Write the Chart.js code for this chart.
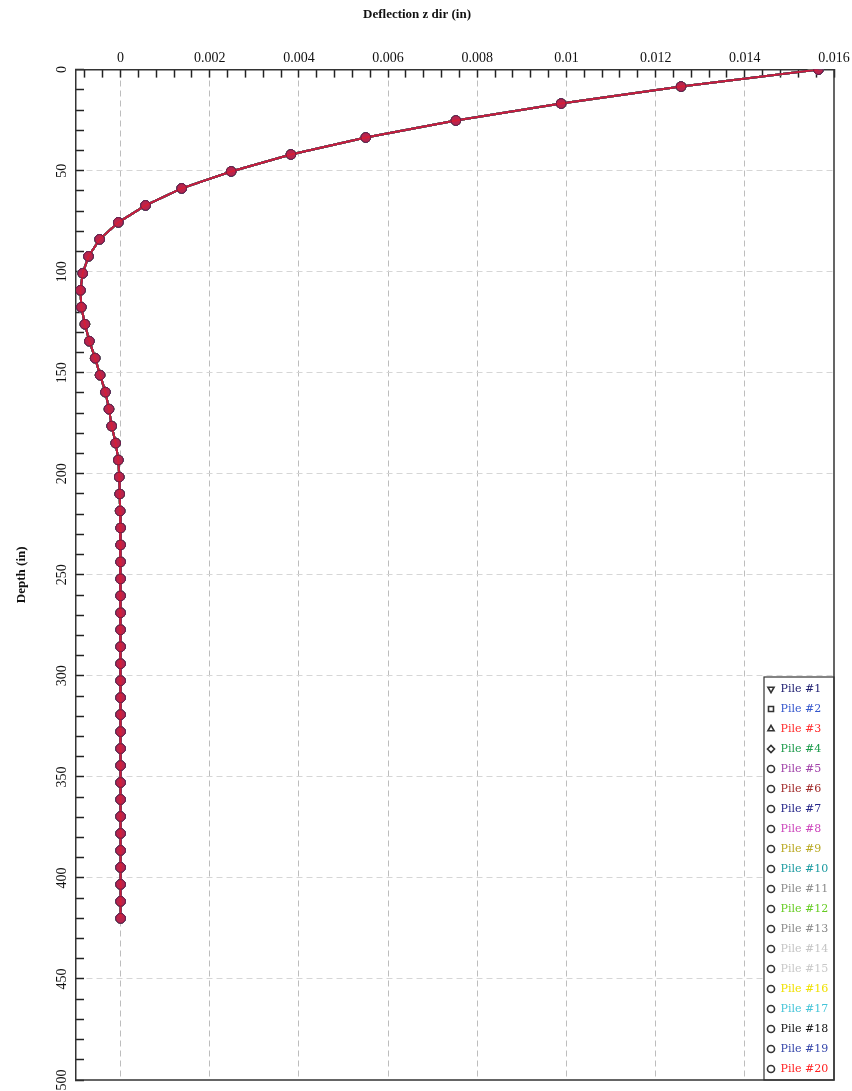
<!DOCTYPE html>
<html>
<head>
<meta charset="utf-8">
<script src="https://cdn.jsdelivr.net/npm/chart.js@4/dist/chart.umd.min.js"></script>
<style>
  html, body { margin: 0; padding: 0; background: #fff; }
  #wrap { width: 852px; height: 1091px; position: relative; }
</style>
</head>
<body>
<div id="wrap"><canvas id="c"></canvas></div>
<script>
// ---- data ----
const depth = [0, 8.4, 16.8, 25.2, 33.6, 42, 50.4, 58.8, 67.2, 75.6,
  84, 92.4, 100.8, 109.2, 117.6, 126, 134.4, 142.8, 151.2, 159.6,
  168, 176.4, 184.8, 193.2, 201.6, 210, 218.4, 226.8, 235.2, 243.6,
  252, 260.4, 268.8, 277.2, 285.6, 294, 302.4, 310.8, 319.2, 327.6,
  336, 344.4, 352.8, 361.2, 369.6, 378, 386.4, 394.8, 403.2, 411.6, 420];
const deflection = [0.01565, 0.01257, 0.00988, 0.00752, 0.00550, 0.00382, 0.00248, 0.00137, 0.00056, -0.00005,
  -0.00047, -0.00072, -0.00085, -0.00090, -0.00088, -0.00080, -0.00070, -0.00057, -0.00046, -0.00034,
  -0.00026, -0.00020, -0.00011, -0.00005, -0.00003, -0.00002, -0.00001, 0, 0, 0,
  0, 0, 0, 0, 0, 0, 0, 0, 0, 0,
  0, 0, 0, 0, 0, 0, 0, 0, 0, 0, 0];
const pileNames = ['Pile #1','Pile #2','Pile #3','Pile #4','Pile #5','Pile #6','Pile #7','Pile #8','Pile #9','Pile #10',
  'Pile #11','Pile #12','Pile #13','Pile #14','Pile #15','Pile #16','Pile #17','Pile #18','Pile #19','Pile #20'];
const pileColors = ['#1a1a6e','#3355cc','#ff2a2a','#1a9a4a','#a040a8','#a02828','#242488','#cc44bb','#b8a820','#1a9aa0',
  '#8a8a8a','#66cc22','#8a8a8a','#c4c4c4','#c8c8c8','#f0e000','#44c4d8','#111111','#3344aa','#ff2020'];
const pileMarkers = ['triangle','rect','triangle','rectRot','circle','circle','circle','circle','circle','circle',
  'circle','circle','circle','circle','circle','circle','circle','circle','circle','circle'];
const pileMarkerRotation = [180,0,0,0,0,0,0,0,0,0,0,0,0,0,0,0,0,0,0,0];
const xMajorTicks = [0, 0.002, 0.004, 0.006, 0.008, 0.01, 0.012, 0.014, 0.016];
const yMajorTicks = [0, 50, 100, 150, 200, 250, 300, 350, 400, 450, 500];
const xMinorStep = 0.0004;
const yMinorStep = 10;

const points = depth.map((d, i) => ({ x: deflection[i], y: d }));
const n = pileNames.length;

const datasets = pileNames.map((name, i) => {
  const last = i === n - 1;
  return {
    label: name,
    data: points,
    order: n - 1 - i,
    borderColor: last ? 'rgba(228,22,40,0.85)' : pileColors[i],
    borderWidth: 2,
    pointStyle: pileMarkers[i],
    rotation: pileMarkerRotation[i],
    pointRadius: 4.8,
    pointBackgroundColor: last ? 'rgba(215,30,55,0.8)' : pileColors[i],
    pointBorderColor: last ? 'rgba(120,25,60,0.9)' : pileColors[i],
    pointBorderWidth: 1,
    tension: 0,
    fill: false
  };
});

function isMajor(v, list) {
  return list.some(m => Math.abs(m - v) < 1e-9);
}

const plotBorder = {
  id: 'plotBorder',
  beforeDatasetsDraw(chart) {
    const { ctx, chartArea: a } = chart;
    ctx.save();
    ctx.strokeStyle = '#333';
    ctx.lineWidth = 1.5;
    ctx.beginPath();
    ctx.moveTo(a.right, a.top);
    ctx.lineTo(a.right, a.bottom);
    ctx.lineTo(a.left, a.bottom);
    ctx.stroke();
    ctx.restore();
  }
};

const legendBox = {
  id: 'legendBox',
  afterLayout(chart) {
    const lg = chart.legend, ca = chart.chartArea;
    if (!lg) return;
    const boxW = 70, boxH = 403;
    const bx = ca.right - boxW, by = ca.bottom - boxH;
    lg._box = { x: bx, y: by, w: boxW, h: boxH };
    lg.left = bx - 6;
    lg.top = by - 2.5;
    lg.width = boxW + 30;
    lg.right = lg.left + lg.width;
    lg.height = boxH + 40;
    lg.bottom = lg.top + lg.height;
    if (!lg._wrapped) {
      lg._wrapped = true;
      const orig = lg.draw;
      lg.draw = function (area) {
        const c = this.ctx, b = this._box;
        c.save();
        c.fillStyle = '#fff';
        c.fillRect(b.x, b.y, b.w, b.h);
        c.strokeStyle = '#333';
        c.lineWidth = 1.2;
        c.strokeRect(b.x, b.y, b.w, b.h);
        c.restore();
        orig.call(this, area);
      };
    }
  }
};

new Chart(document.getElementById('c'), {
  type: 'line',
  data: { datasets },
  plugins: [plotBorder, legendBox],
  options: {
    responsive: true,
    maintainAspectRatio: false,
    animation: false,
    layout: { padding: { left: 0, right: 18, top: 0, bottom: 11 } },
    plugins: {
      title: {
        display: true,
        text: 'Deflection z dir (in)',
        color: '#111',
        font: { family: 'Liberation Serif', size: 13, weight: 'bold' },
        padding: { top: 7, bottom: 10 }
      },
      legend: {
        position: 'chartArea',
        align: 'start',
        labels: {
          usePointStyle: true,
          boxWidth: 8,
          boxHeight: 5,
          padding: 9,
          font: { family: 'DejaVu Serif', size: 11 },
          generateLabels: () => pileNames.map((name, i) => ({
            text: name,
            fontColor: pileColors[i],
            pointStyle: pileMarkers[i],
            rotation: pileMarkerRotation[i],
            fillStyle: '#fff',
            strokeStyle: '#333',
            lineWidth: 1.6,
            hidden: false,
            datasetIndex: i
          }))
        }
      },
      tooltip: { enabled: false }
    },
    scales: {
      x: {
        type: 'linear',
        position: 'top',
        min: -0.001,
        max: 0.016,
        afterBuildTicks(scale) {
          const t = [];
          for (let k = -2; k <= 40; k++) t.push({ value: +(k * xMinorStep).toFixed(5) });
          scale.ticks = t;
        },
        afterFit(scale) {
          scale.height = 37;
          scale.paddingLeft = 0; scale.paddingRight = 0;
          scale.paddingTop = 0; scale.paddingBottom = 0;
        },
        ticks: {
          autoSkip: false,
          maxRotation: 0,
          minRotation: 0,
          padding: 11,
          color: '#111',
          font: { family: 'Liberation Serif', size: 14 },
          callback: (v) => isMajor(v, xMajorTicks) ? String(+v.toFixed(4)) : ''
        },
        grid: {
          color: (c) => (c.tick && isMajor(c.tick.value, xMajorTicks) && c.tick.value >= 0 && c.tick.value < 0.016) ? '#bdbdbd' : 'rgba(0,0,0,0)',
          lineWidth: 1,
          tickLength: -8,
          tickColor: '#222',
          tickWidth: 1.5
        },
        border: { display: true, color: '#333', width: 1.5, dash: [6, 4] }
      },
      y: {
        type: 'linear',
        position: 'left',
        reverse: true,
        min: 0,
        max: 500,
        afterBuildTicks(scale) {
          const t = [];
          for (let v = 0; v <= 500; v += yMinorStep) t.push({ value: v });
          scale.ticks = t;
        },
        afterFit(scale) {
          scale.width = 76;
          scale.paddingLeft = 0; scale.paddingRight = 0;
          scale.paddingTop = 0; scale.paddingBottom = 0;
        },
        title: {
          display: true,
          text: 'Depth (in)',
          color: '#111',
          font: { family: 'Liberation Serif', size: 13, weight: 'bold' },
          padding: { top: 14, bottom: 0 }
        },
        ticks: {
          autoSkip: false,
          minRotation: 90,
          maxRotation: 90,
          crossAlign: 'center',
          padding: 11,
          color: '#111',
          font: { family: 'Liberation Serif', size: 14 },
          callback: (v) => isMajor(v, yMajorTicks) ? String(v) : ''
        },
        grid: {
          color: (c) => c.tick && isMajor(c.tick.value, yMajorTicks) && c.tick.value > 0 && c.tick.value < 500 ? '#d6d6d6' : 'rgba(0,0,0,0)',
          lineWidth: 1,
          tickLength: -8,
          tickColor: '#222',
          tickWidth: 1.5
        },
        border: { display: true, color: '#333', width: 1.5, dash: [6, 4] }
      }
    }
  }
});
</script>
</body>
</html>
